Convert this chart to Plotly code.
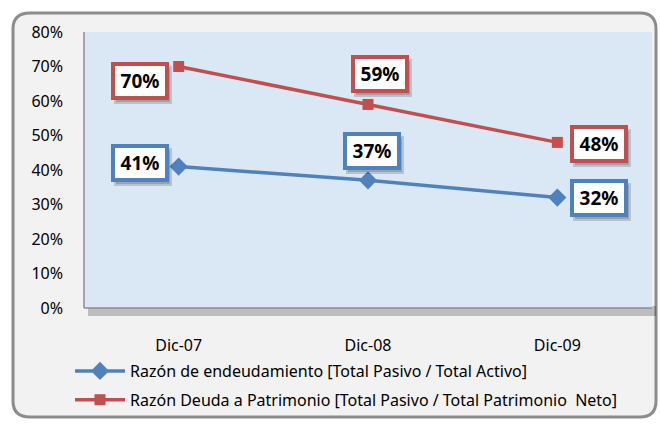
import plotly.graph_objects as go

categories = ["Dic-07", "Dic-08", "Dic-09"]
endeudamiento = [0.41, 0.37, 0.32]
deuda_patrimonio = [0.70, 0.59, 0.48]
name_blue = "Razón de endeudamiento [Total Pasivo / Total Activo]"
name_red = "Razón Deuda a Patrimonio [Total Pasivo / Total Patrimonio  Neto]"
y_ticks = [0, 0.1, 0.2, 0.3, 0.4, 0.5, 0.6, 0.7, 0.8]

BLUE = "#4f81bd"
RED = "#c0504d"
W, H = 660, 425
L, R, T, B = 84, 8, 32, 117
PW, PH = W - L - R, H - T - B

def px(x):
    return (x - L) / PW

def py(y):
    return (H - B - y) / PH

fig = go.Figure()
fig.add_trace(go.Scatter(x=categories, y=endeudamiento, name=name_blue, mode="lines+markers",
                         legendgroup="a",
                         line=dict(color=BLUE, width=3.5),
                         marker=dict(symbol="diamond", size=14, color=BLUE)))
fig.add_trace(go.Scatter(x=categories, y=deuda_patrimonio, name=name_red, mode="lines+markers",
                         legendgroup="b",
                         line=dict(color=RED, width=3.5),
                         marker=dict(symbol="square", size=11, color=RED)))

blue_off = [(-39, -4), (4, -29), (42, 0)]
red_off = [(-39, 14), (12, -30), (42, 2)]
for vals, offs, col in [(endeudamiento, blue_off, BLUE), (deuda_patrimonio, red_off, RED)]:
    for c, v, (ax, ay) in zip(categories, vals, offs):
        # shadow
        fig.add_annotation(x=c, y=v, ax=ax + 3, ay=ay + 4, text="&nbsp;",
                           showarrow=True, arrowcolor="rgba(0,0,0,0)", width=44, height=24,
                           borderpad=3, borderwidth=4, bordercolor="rgba(0,0,0,0.16)",
                           bgcolor="rgba(0,0,0,0.16)", font=dict(size=8))
        fig.add_annotation(x=c, y=v, ax=ax, ay=ay, text=f"<b>{round(v*100)}%</b>",
                           showarrow=True, arrowcolor="rgba(0,0,0,0)", width=44, height=24,
                           borderpad=3, borderwidth=4, bordercolor=col, bgcolor="white",
                           font=dict(size=19, color="black", family="Noto Sans"))

shapes = [
    # outer rounded frame
    dict(type="path", xref="paper", yref="paper", layer="below",
         path=(f"M {px(30)} {py(13)} L {px(640)} {py(13)} Q {px(656)} {py(13)} {px(656)} {py(29)} "
               f"L {px(656)} {py(401)} Q {px(656)} {py(417)} {px(640)} {py(417)} "
               f"L {px(30)} {py(417)} Q {px(13)} {py(417)} {px(13)} {py(401)} "
               f"L {px(13)} {py(29)} Q {px(13)} {py(13)} {px(30)} {py(13)} Z"),
         fillcolor="#f2f2f2", line=dict(color="#8c8c8c", width=3)),
    # plot shadow
    dict(type="rect", xref="paper", yref="paper", layer="below",
         x0=px(88), x1=px(656), y0=py(316), y1=py(306),
         fillcolor="rgba(0,0,0,0.22)", line=dict(width=0)),
    dict(type="rect", xref="paper", yref="paper", layer="below",
         x0=0, x1=1, y0=0, y1=1, fillcolor="#dae8f6", line=dict(width=0)),
    dict(type="line", xref="paper", yref="paper", x0=0, x1=1, y0=0, y1=0,
         line=dict(color="#8c8c8c", width=1.5)),
    dict(type="line", xref="paper", yref="paper", x0=0, x1=0, y0=0, y1=1,
         line=dict(color="#8c8c8c", width=1.5)),
]

fig.update_layout(
    width=W, height=H,
    margin=dict(l=L, r=R, t=T, b=B, autoexpand=False),
    paper_bgcolor="white", plot_bgcolor="rgba(0,0,0,0)",
    font=dict(family="Noto Sans", size=16, color="black"),
    shapes=shapes,
    showlegend=True,
    legend=dict(orientation="v", x=px(70), y=py(354), xanchor="left", yanchor="top",
                bgcolor="rgba(0,0,0,0)", font=dict(size=16, family="Noto Sans"),
                itemwidth=50, traceorder="grouped", tracegroupgap=5),
    xaxis=dict(range=[-0.5, 2.5], showgrid=False, zeroline=False, showline=False,
               ticks="", ticklabelstandoff=26, tickfont=dict(size=16)),
    yaxis=dict(range=[0, 0.8], tickvals=y_ticks, tickformat=".0%", showgrid=False,
               zeroline=False, showline=False, ticks="", ticklabelstandoff=20,
               tickfont=dict(size=16)),
)

fig.write_html("out.html", config={"displayModeBar": False},
               post_script="document.body.style.margin='0px';")
